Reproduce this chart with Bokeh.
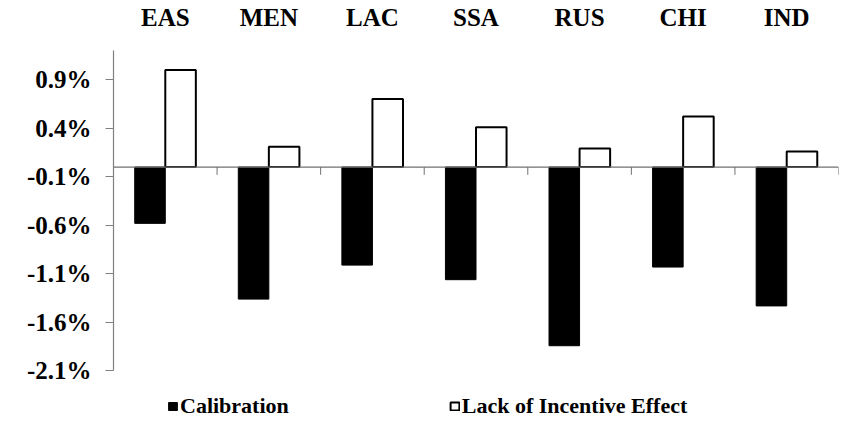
from bokeh.plotting import figure
from bokeh.models import FixedTicker, Span, Legend, LegendItem, ColumnDataSource
from bokeh.transform import dodge
from bokeh.embed import file_html
from bokeh.resources import INLINE

regions = ["EAS", "MEN", "LAC", "SSA", "RUS", "CHI", "IND"]
calibration = [-0.58, -1.36, -1.01, -1.16, -1.84, -1.03, -1.43]
lack_incentive = [1.00, 0.21, 0.70, 0.41, 0.19, 0.52, 0.16]
y_ticks = [-2.1, -1.6, -1.1, -0.6, -0.1, 0.4, 0.9]
y_tick_labels = ["-2.1%", "-1.6%", "-1.1%", "-0.6%", "-0.1%", "0.4%", "0.9%"]
series_names = ["Calibration", "Lack of Incentive Effect"]

FONT = "Liberation Serif"

src = ColumnDataSource(dict(region=regions, cal=calibration, lack=lack_incentive,
                            zero=[0] * len(regions), tick_end=[-0.08] * len(regions)))

p = figure(x_range=regions, y_range=(-2.61, 1.2), width=842, height=420,
           output_backend="svg", toolbar_location=None, x_axis_location="above",
           min_border_left=113, min_border_right=4, min_border_top=0, min_border_bottom=0)
p.outline_line_color = None
p.xgrid.visible = False
p.ygrid.visible = False

bw = 0.295
r1 = p.vbar(x=dodge("region", -bw / 2, range=p.x_range), top="cal", bottom=0, width=bw,
            source=src, fill_color="black", line_color="black", line_width=1)
r2 = p.vbar(x=dodge("region", bw / 2, range=p.x_range), top="lack", bottom=0, width=bw,
            source=src, fill_color="white", line_color="black", line_width=2)

zero_line = Span(location=0, dimension="width", line_color="#707070", line_width=1.2)
p.add_layout(zero_line)
p.segment(x0=dodge("region", 0.5, range=p.x_range), x1=dodge("region", 0.5, range=p.x_range),
          y0="zero", y1="tick_end", source=src, line_color="#707070", line_width=1)

# top category axis
xa = p.xaxis[0]
xa.axis_line_color = None
xa.major_tick_line_color = None
xa.minor_tick_line_color = None
xa.major_label_text_font = FONT
xa.major_label_text_font_style = "bold"
xa.major_label_text_font_size = "25px"
xa.major_label_text_color = "black"
xa.major_label_standoff = 14

ya = p.yaxis[0]
ya.ticker = FixedTicker(ticks=y_ticks)
ya.bounds = (-2.1, 1.2)
ya.major_label_overrides = dict(zip(y_ticks, y_tick_labels))
ya.axis_line_color = "#808080"
ya.axis_line_width = 1.2
ya.major_tick_line_color = "#808080"
ya.major_tick_out = 8
ya.major_tick_in = 0
ya.minor_tick_line_color = None
ya.major_label_standoff = 14
ya.major_label_text_font = FONT
ya.major_label_text_font_style = "bold"
ya.major_label_text_font_size = "25px"
ya.major_label_text_color = "black"

legend = Legend(items=[LegendItem(label=series_names[0], renderers=[r1]),
                       LegendItem(label=series_names[1], renderers=[r2])],
                orientation="horizontal", location=(54, 1),
                padding=0, margin=0, spacing=160,
                glyph_width=11, glyph_height=10, label_standoff=2,
                label_text_font=FONT, label_text_font_style="bold",
                label_text_font_size="22px", label_height=22, label_text_color="black",
                border_line_color=None, background_fill_alpha=0)
p.add_layout(legend, "center")

open("out.html", "w").write(file_html(p, INLINE))
